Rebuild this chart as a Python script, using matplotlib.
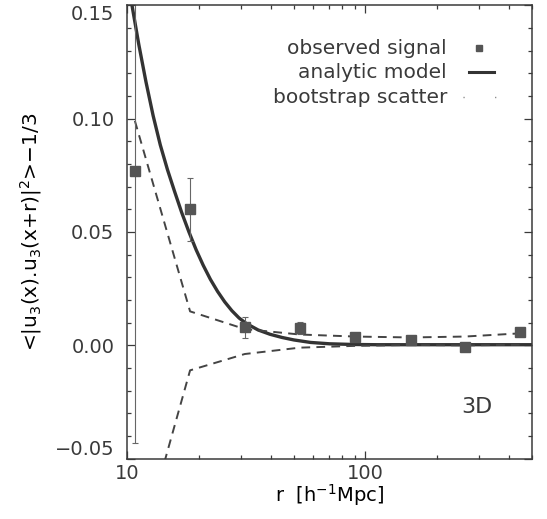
import numpy as np
import matplotlib
matplotlib.use('Agg')
import matplotlib.pyplot as plt
from matplotlib.ticker import MultipleLocator, FixedLocator, FixedFormatter

# observed signal (r in h^-1 Mpc)
r_obs = [10.8, 18.4, 31.2, 53.0, 90.6, 155.0, 261.0, 443.0]
sig_obs = [0.077, 0.060, 0.0079, 0.0076, 0.0039, 0.0022, -0.0009, 0.0057]
err_obs = [0.120, 0.014, 0.0045, 0.0025, 0.0008, 0.0008, 0.0008, 0.0012]

# analytic model
r_mod = [10.0, 10.5, 11.22, 12.02, 12.88, 13.80, 14.79, 15.85, 16.98,
         18.20, 19.50, 20.89, 22.39, 23.99, 25.70, 27.54, 29.51, 31.62,
         35.48, 39.81, 44.67, 50.12, 58.88, 70.79, 89.13, 112.2, 158.5,
         251.2, 500.0]
sig_mod = [0.1635, 0.150, 0.1326, 0.1162, 0.1013, 0.0884, 0.0775, 0.0678,
           0.0585, 0.0500, 0.0422, 0.0353, 0.0291, 0.0238, 0.0192, 0.0153,
           0.0121, 0.0097, 0.0068, 0.0049, 0.0035, 0.0024, 0.0013, 0.0007,
           0.0004, 0.0003, 0.0003, 0.0003, 0.0003]

# bootstrap scatter envelope (at the data radii)
boot_hi = [0.099, 0.015, 0.0072, 0.0048, 0.0039, 0.0035, 0.0039, 0.0053]
boot_lo = [-0.098, -0.011, -0.0038, -0.0010, -0.0002, 0.0002, 0.0000, 0.0003]

xticks = [10, 100]
xticklabels = ['10', '100']
ytick_vals = [-0.05, 0.0, 0.05, 0.10, 0.15]

ink = '#3a3a3a'
plt.rcParams['font.family'] = ['DejaVu Sans']
plt.rcParams['text.color'] = ink
plt.rcParams['axes.edgecolor'] = ink
plt.rcParams['xtick.color'] = ink
plt.rcParams['ytick.color'] = ink

fig = plt.figure(figsize=(5.47, 5.19), dpi=100)
ax = fig.add_axes([0.232, 0.116, 0.741, 0.874])

ax.plot(r_mod, sig_mod, color='#333333', lw=2.4, solid_capstyle='butt')
ax.plot(r_obs, boot_hi, color='#444444', lw=1.4, dashes=(4.5, 3.2))
ax.plot(r_obs, boot_lo, color='#444444', lw=1.4, dashes=(4.5, 3.2))
ax.errorbar(r_obs, sig_obs, yerr=err_obs, fmt='s', ms=6.5, color='#555555',
            mec='#555555', ecolor='#666666', elinewidth=0.8, capsize=2.2,
            capthick=0.8)

ax.set_xscale('log')
ax.set_xlim(10, 500)
ax.set_ylim(-0.05, 0.15)
ax.xaxis.set_major_locator(FixedLocator(xticks))
ax.xaxis.set_major_formatter(FixedFormatter(xticklabels))
ax.yaxis.set_major_locator(FixedLocator(ytick_vals))
ax.yaxis.set_major_formatter(plt.FuncFormatter(
    lambda v, p: ('%.2f' % v).replace('-', '\u2212')))
ax.yaxis.set_minor_locator(MultipleLocator(0.01))

ax.tick_params(which='both', direction='in', top=True, right=True,
               labelsize=14)
ax.tick_params(which='major', length=6, width=0.9)
ax.tick_params(which='minor', length=3, width=0.9)
ax.tick_params(axis='y', pad=9)
ax.tick_params(axis='x', pad=4)
for s in ax.spines.values():
    s.set_linewidth(1.1)

# keep the end labels inside the frame, as in the original
fig.canvas.draw()
ylabs = ax.get_yticklabels()
ylabs[0].set_va('bottom')
ylabs[-1].set_va('top')

ax.set_xlabel('r  [h$^{-1}$Mpc]', fontsize=14, labelpad=-1)
ax.set_ylabel('<|u$_3$(x).u$_3$(x+r)|$^2$>\u22121/3', fontsize=14.5,
              labelpad=8)

# legend drawn in the upper right, labels right-aligned
tr = ax.transAxes
ax.text(0.790, 0.905, 'observed signal', transform=tr, ha='right',
        va='center', fontsize=14.5)
ax.text(0.790, 0.852, 'analytic model', transform=tr, ha='right',
        va='center', fontsize=14.5)
ax.text(0.790, 0.797, 'bootstrap scatter', transform=tr, ha='right',
        va='center', fontsize=14.5)
ax.plot([0.869], [0.905], 's', ms=5, color='#555555', transform=tr)
ax.plot([0.843, 0.906], [0.852, 0.852], color='#333333', lw=2.2,
        transform=tr)
ax.plot([0.830, 0.912], [0.797, 0.797], color='#777777', lw=1.0,
        dashes=(0.8, 22), transform=tr)

ax.text(0.864, 0.115, '3D', transform=tr, ha='center', va='center',
        fontsize=16)

fig.savefig('out.png', dpi=100)
